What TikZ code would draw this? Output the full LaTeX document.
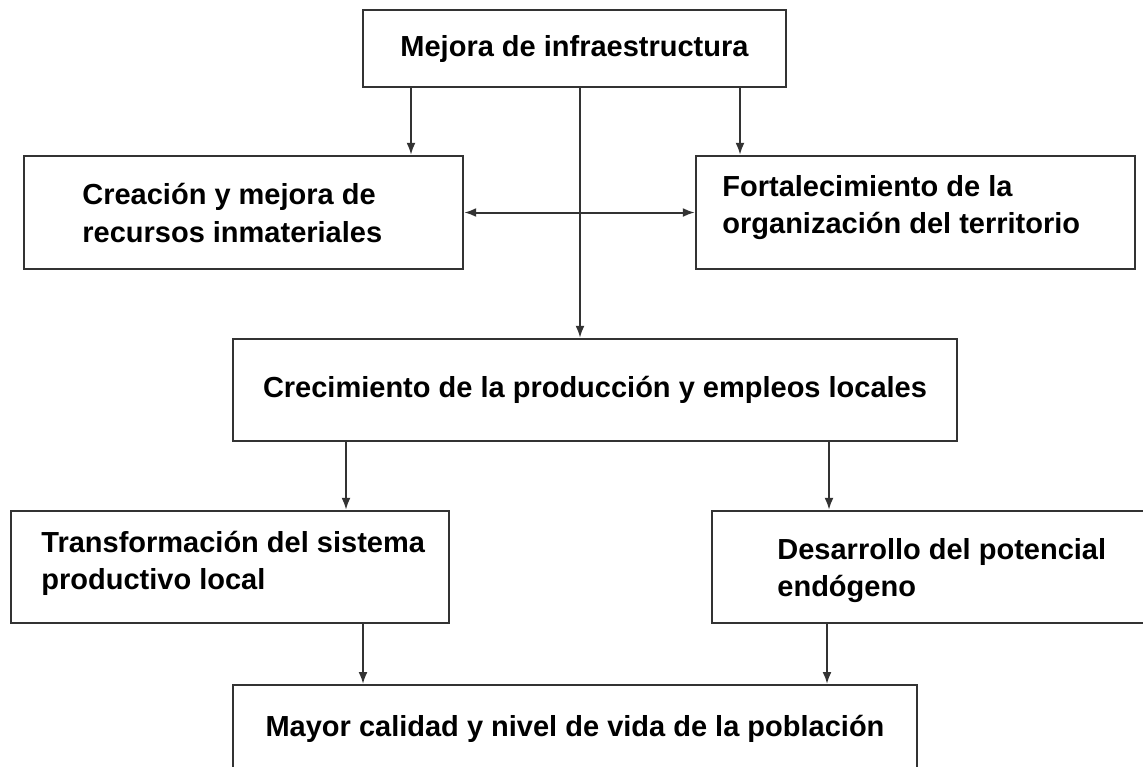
\documentclass[tikz,border=0pt]{standalone}
\usepackage{fontspec}
\setmainfont{Liberation Sans}
\usetikzlibrary{arrows.meta,positioning}

\begin{document}
\begin{tikzpicture}[x=0.5pt,y=-0.5pt,
    >={Latex[length=6pt,width=4.5pt]},
    caja/.style={draw=black!80,line width=1.2pt,inner sep=0pt,font=\bfseries\fontsize{14.5}{18.5}\selectfont},
    texto/.style={font=\bfseries\fontsize{14.5}{18.5}\selectfont,align=left,anchor=west,inner sep=0pt},
    flecha/.style={draw=black!80,line width=1pt,->}]

    % Marco
    \useasboundingbox (0,0) rectangle (1143,766);
    \clip (0,0) rectangle (1143,766);

    % Cajas
    \node[caja,minimum width=211.5pt,minimum height=38.5pt] (sup) at (574.5,48.5) {Mejora de infraestructura};
    \node[caja,minimum width=219.5pt,minimum height=56.5pt] (izq) at (243.5,212.5) {};
    \node[caja,minimum width=219.5pt,minimum height=56.5pt] (der) at (915.5,212.5) {};
    \node[caja,minimum width=362pt,minimum height=51pt] (cen) at (595,390) {Crecimiento de la producción y empleos locales};
    \node[caja,minimum width=219pt,minimum height=56pt] (infi) at (230,567) {};
    \node[caja,minimum width=224pt,minimum height=56pt] (infd) at (936,567) {};
    \node[caja,minimum width=342pt,text height=25.5pt,text depth=27.5pt,anchor=north] (fin) at (575,684) {Mayor calidad y nivel de vida de la población};

    % Textos
    \node[texto] (tizq) at (82,213) {Creación y mejora de\\recursos inmateriales};
    \node[texto] (tder) at (722,207.5) {Fortalecimiento de la\\organización del territorio};
    \node[texto] (tinfi) at (41,563.5) {Transformación del sistema\\productivo local};
    \node[texto] (tinfd) at (777,571) {Desarrollo del potencial\\endógeno};

    % Flechas
    \foreach \xx/\a/\b in {411/sup/izq,740/sup/der,580/sup/cen,346/cen/infi,829/cen/infd,363/infi/fin,827/infd/fin} {
        \coordinate (p) at (\xx,0);
        \draw[flecha] (\a.south -| p) -- (\b.north -| p);
    }
    \draw[flecha,<->] (izq.east) -- (der.west);

\end{tikzpicture}
\end{document}
